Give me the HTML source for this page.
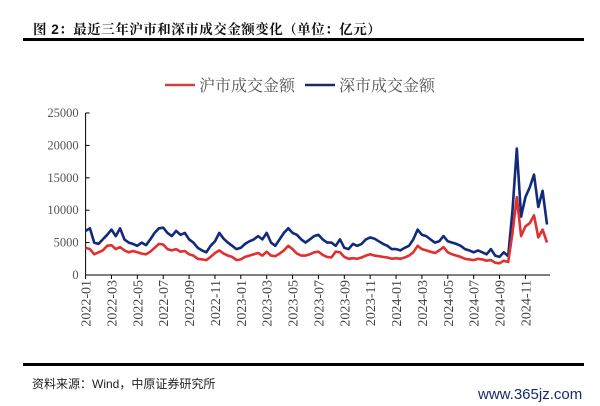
<!DOCTYPE html>
<html><head><meta charset="utf-8"><style>
body{margin:0;background:#fff;width:600px;height:406px;overflow:hidden;position:relative;font-family:"Liberation Sans","Noto Sans CJK SC",sans-serif}
.t{position:absolute;left:33px;top:18px;font-size:13.5px;font-weight:bold;color:#111;font-family:"Liberation Sans","Noto Serif CJK SC",serif;letter-spacing:0.5px}
.rule{position:absolute;left:23px;width:561px;height:2.5px;background:#000}
.src{position:absolute;left:32px;top:375px;font-size:12px;color:#222}
.wm{position:absolute;left:478px;top:386px;font-size:15px;color:#1a2a6a;font-family:"Liberation Sans",sans-serif}
</style></head><body>
<div class="t">图 2：最近三年沪市和深市成交金额变化（单位：亿元）</div>
<div class="rule" style="top:38px"></div>
<svg id="ch" width="600" height="406" style="position:absolute;left:0;top:0"></svg>
<div class="rule" style="top:363px"></div>
<div class="src">资料来源：Wind，中原证券研究所</div>
<div class="wm">www.365jz.com</div>
<script>
const yTicks=[0,5000,10000,15000,20000,25000];
const xTickLabels=["2022-01","2022-03","2022-05","2022-07","2022-09","2022-11","2023-01","2023-03","2023-05","2023-07","2023-09","2023-11","2024-01","2024-03","2024-05","2024-07","2024-09","2024-11"];
const szValues=[6800,7200,5000,4800,5500,6200,7000,6000,7200,5500,5000,4800,4500,5000,4600,5500,6500,7200,7300,6500,6000,6800,6200,6500,5500,5000,4200,3800,3500,4500,5200,6500,5600,5000,4500,4000,
4200,4800,5200,5500,6000,5500,6500,5000,4500,5500,6500,7200,6500,6200,5500,5000,5500,6000,6200,5500,5000,5000,4500,5500,4200,4000,4800,4500,4800,5500,5800,5600,5200,4800,4500,4000,
4000,3800,4200,4500,5500,7000,6200,6000,5500,5000,5200,6000,5200,5000,4800,4500,4000,3800,3500,3800,3500,3200,4000,3000,2800,3500,2900,10000,19500,9000,12000,13500,15500,10500,13000,7800];
const shValues=[4200,4000,3200,3500,3800,4500,4600,4000,4300,3800,3500,3700,3500,3300,3200,3600,4200,4800,4700,4000,3800,4000,3600,3700,3200,3000,2500,2400,2300,2800,3400,3800,3300,3000,2800,2300,
2400,2800,3000,3200,3400,3000,3600,3000,2900,3300,3800,4500,4000,3300,3000,3000,3200,3500,3600,3100,2800,2700,3600,3500,2800,2500,2600,2500,2700,3000,3200,3000,2900,2800,2700,2500,
2600,2500,2700,3000,3500,4500,4000,3800,3600,3400,3800,4300,3500,3200,3000,2800,2500,2400,2300,2500,2400,2200,2300,1900,1800,2200,2000,6500,12000,6000,7500,8000,9200,5800,7000,5000];
const NS="http://www.w3.org/2000/svg",svg=document.getElementById('ch');
const X0=85.6,X1=547,Y0=275,Y1=113;
const xs=m=>X0+m/35.67*(X1-X0);
const ys=v=>Y0-v/25000*(Y0-Y1);
function mk(t,a){const e=document.createElementNS(NS,t);for(const k in a)e.setAttribute(k,a[k]);svg.appendChild(e);return e;}
let ax=mk('path',{d:`M${X0} ${Y1}V${Y0}H550`,stroke:'#000','stroke-width':1,fill:'none'});


yTicks.forEach(v=>{const y=ys(v);
 mk('line',{x1:X0,x2:X0+4,y1:y,y2:y,stroke:'#000'});
 const t=mk('text',{x:X0-7,y:y+4,'text-anchor':'end','font-size':12.5,fill:'#555','font-family':'Liberation Serif,serif'});t.textContent=v;
 
 });
xTickLabels.forEach((l,i)=>{const x=xs(i*2);
 mk('line',{x1:x,x2:x,y1:Y0,y2:Y0+4,stroke:'#000'});
 const t=mk('text',{x:0,y:0,transform:`translate(${x+5},${Y0+5}) rotate(-90)`,'text-anchor':'end','font-size':14,fill:'#444','font-family':'Liberation Serif,serif'});t.textContent=l;
 
 });
function line(vals,col,name){const d=vals.map((v,i)=>(i?'L':'M')+xs(i/3).toFixed(1)+' '+ys(v).toFixed(1)).join('');
 const p=mk('path',{d,stroke:col,'stroke-width':2.6,fill:'none','stroke-linejoin':'round'});
 
 }
line(szValues,'#112a7a','sz-turnover-line');
line(shValues,'#e03030','sh-turnover-line');
function leg(x,col,txt,name){const g=mk('g',{});
 
 
 const l=document.createElementNS(NS,'line');[['x1',x],['x2',x+30],['y1',85],['y2',85],['stroke',col],['stroke-width',2.5]].forEach(a=>l.setAttribute(a[0],a[1]));g.appendChild(l);
 const t=document.createElementNS(NS,'text');[['x',x+34],['y',91],['font-size',16],['fill','#555'],['font-family','Liberation Serif,Noto Serif CJK SC,serif']].forEach(a=>t.setAttribute(a[0],a[1]));t.textContent=txt;g.appendChild(t);}
leg(165,'#d04040','沪市成交金额','legend-sh');
leg(305,'#1a2a6a','深市成交金额','legend-sz');
</script>
</body></html>
